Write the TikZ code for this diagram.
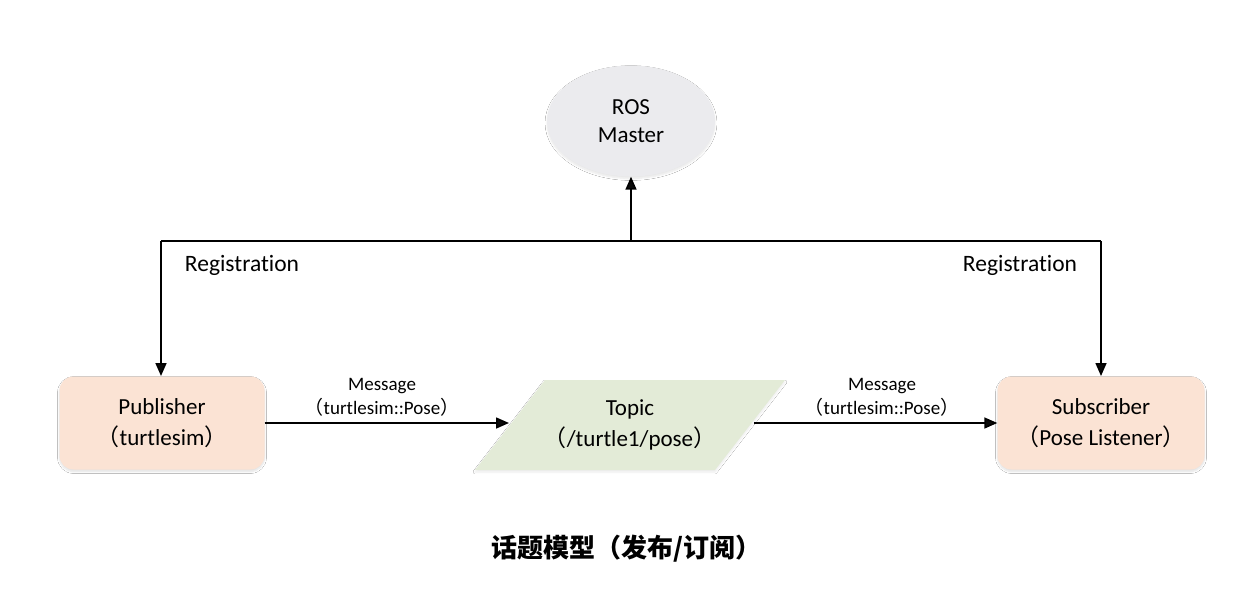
\documentclass[tikz,border=0pt]{standalone}
\usepackage{fontspec}
\setmainfont{Carlito}[Ligatures=NoCommon]
\newfontfamily\cjk{Noto Sans CJK SC}
\usetikzlibrary{arrows.meta,shapes.geometric,shadows.blur}
\newcommand{\lp}{{\cjk （}}
\newcommand{\rp}{{\cjk ）}}
\begin{document}
\begin{tikzpicture}[x=1pt,y=-1pt,
  conn/.style={line width=1.6pt,-{Triangle[length=13pt,width=11pt]}},
  line/.style={line width=1.6pt},
  boxnode/.style={rounded corners=14pt,fill=peach,minimum width=205pt,minimum height=93pt,align=center,font=\fontsize{23}{31}\selectfont,blur shadow={shadow xshift=0pt,shadow yshift=-2pt,shadow blur steps=6,shadow opacity=12}},
  lbl/.style={font=\fontsize{23.5}{28}\selectfont},
  msg/.style={font=\fontsize{19}{24}\selectfont,align=center}
]
\definecolor{peach}{HTML}{FBE3D4}
\definecolor{greenfill}{HTML}{E3EBD7}
\definecolor{ellfill}{HTML}{EBEBEE}
\useasboundingbox (0,0) rectangle (1248,608);
\fill[white] (0,0) rectangle (1248,608);
% ROS Master
\node[ellipse,fill=ellfill,minimum width=168pt,minimum height=111pt,align=center,font=\fontsize{23}{28}\selectfont,blur shadow={shadow xshift=0pt,shadow yshift=-2pt,shadow blur steps=6,shadow opacity=10}] (master) at (631,121) {ROS\\Master};
% Publisher / Subscriber
\node[boxnode] (pub) at (162,423) {Publisher\\\lp turtlesim\rp};
\node[boxnode,minimum width=207pt] (sub) at (1101,423) {Subscriber\\\lp Pose Listener\rp};
% Topic parallelogram
\fill[greenfill,blur shadow={shadow xshift=0pt,shadow yshift=-2pt,shadow blur steps=6,shadow opacity=8}] (545,380) -- (785,380) -- (715,470) -- (475,470) -- cycle;
\node[align=center,font=\fontsize{23}{31}\selectfont] (topic) at (630,425) {Topic\\\lp /turtle1/pose\rp};
\coordinate (topicL) at (509,423);
\coordinate (topicR) at (754,423);
% Registration lines
\coordinate (junc) at (631,241);
\coordinate (lcorner) at (161,241);
\coordinate (rcorner) at (1101,241);
\draw[line] (lcorner) -- (rcorner);
\draw[conn] (junc) -- (master.south);
\draw[conn] (lcorner) -- (161,376);
\draw[conn] (rcorner) -- (1101,376);
\node[lbl] (reg1) at (242,265) {Registration};
\node[lbl] (reg2) at (1020,265) {Registration};
% Messages
\draw[conn] (pub.east) -- (topicL);
\draw[conn] (topicR) -- (sub.west);
\node[msg] (m1) at (382,397) {Message\\\lp turtlesim::Pose\rp};
\node[msg] (m2) at (882,397) {Message\\\lp turtlesim::Pose\rp};
% Title
\node[font=\cjk\bfseries\fontsize{26}{30}\selectfont] (title) at (626,549) {话题模型（发布/订阅）};
\end{tikzpicture}
\end{document}
